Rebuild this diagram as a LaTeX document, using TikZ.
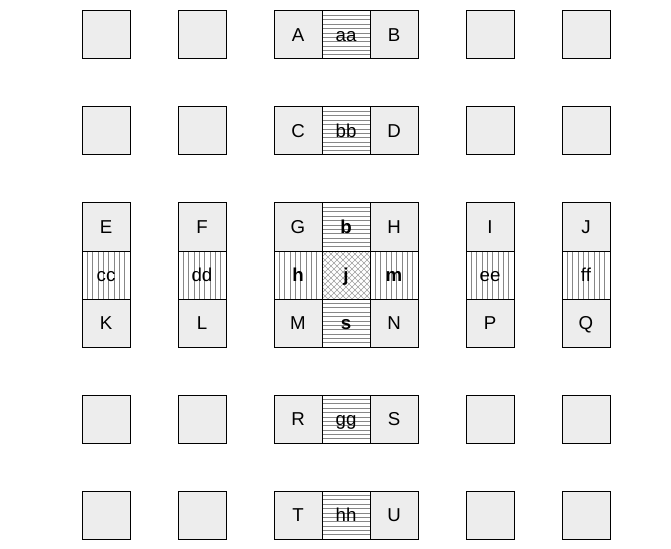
\documentclass[tikz,border=0pt]{standalone}
\usepackage{fontspec}
\setmainfont{Liberation Sans}
\usetikzlibrary{calc}
\definecolor{cellgray}{RGB}{237,237,237}
\definecolor{hatchgray}{RGB}{135,135,135}
\begin{document}
\begin{tikzpicture}[x=0.75pt,y=-0.75pt,line width=0.75pt,
    cell/.style={draw, inner sep=0pt, minimum size=36pt, text height=9.5pt, text depth=0pt, fill=cellgray, font=\fontsize{14}{16}\selectfont},
    hstrip/.style={cell, fill=white, path picture={
        \foreach \k in {1,...,10}
          \draw[hatchgray,line width=0.4pt] ($(path picture bounding box.north west)!\k/11!(path picture bounding box.south west)$) -- ++(48,0);}},
    vstrip/.style={cell, fill=white, path picture={
        \foreach \k in {1,...,8}
          \draw[hatchgray,line width=0.4pt] ($(path picture bounding box.north west)!\k/9!(path picture bounding box.north east)$) -- ++(0,48);}},
    xstrip/.style={cell, fill=white, path picture={
        \foreach \k in {-8,...,8} {
          \draw[hatchgray!80,line width=0.4pt] (path picture bounding box.north west) ++(\k*6,0) -- ++(48,48);
          \draw[hatchgray!80,line width=0.4pt] (path picture bounding box.north east) ++(\k*6,0) -- ++(-48,48);}}}]
        \useasboundingbox (0,0) rectangle (671,549);

        \foreach \x/\c in {106/a,202/b,490/c,586/d}
          \foreach \y/\r in {35/1,131/2,419/3,515/4}
            \node[cell](Q\c\r) at (\x, \y) {};

        \node[cell](A) at (298, 35) {A};
        \node[hstrip](aa) at (346, 35) {aa};
        \node[cell](B) at (394, 35) {B};

        \node[cell](C) at (298, 131) {C};
        \node[hstrip](bb) at (346, 131) {bb};
        \node[cell](D) at (394, 131) {D};

        \node[cell](E) at (106, 227) {E};
        \node[vstrip](cc) at (106, 275) {cc};
        \node[cell](K) at (106, 323) {K};

        \node[cell](F) at (202, 227) {F};
        \node[vstrip](dd) at (202, 275) {dd};
        \node[cell](L) at (202, 323) {L};

        \node[cell](G) at (298, 227) {G};
        \node[hstrip](b) at (346, 227) {\textbf{b}};
        \node[cell](H) at (394, 227) {H};
        \node[vstrip](h) at (298, 275) {\textbf{h}};
        \node[xstrip](j) at (346, 275) {\textbf{j}};
        \node[vstrip](m) at (394, 275) {\textbf{m}};
        \node[cell](M) at (298, 323) {M};
        \node[hstrip](s) at (346, 323) {\textbf{s}};
        \node[cell](N) at (394, 323) {N};

        \node[cell](I) at (490, 227) {I};
        \node[vstrip](ee) at (490, 275) {ee};
        \node[cell](P) at (490, 323) {P};

        \node[cell](J) at (586, 227) {J};
        \node[vstrip](ff) at (586, 275) {ff};
        \node[cell](Qq) at (586, 323) {Q};

        \node[cell](R) at (298, 419) {R};
        \node[hstrip](gg) at (346, 419) {gg};
        \node[cell](S) at (394, 419) {S};

        \node[cell](T) at (298, 515) {T};
        \node[hstrip](hh) at (346, 515) {hh};
        \node[cell](U) at (394, 515) {U};
      \end{tikzpicture}
\end{document}
